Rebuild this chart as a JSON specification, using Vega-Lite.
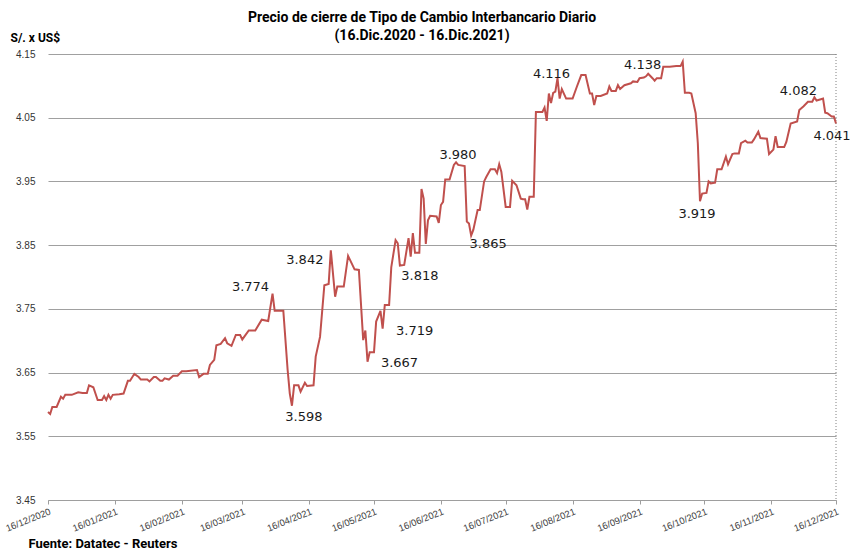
{
  "$schema": "https://vega.github.io/schema/vega-lite/v6.json",
  "width": 788,
  "height": 446,
  "autosize": {"type": "none"},
  "padding": {"left": 48, "top": 54, "right": 18, "bottom": 50},
  "background": "white",
  "config": {"view": {"stroke": null}},
  "title": {
    "text": ["Precio de cierre de Tipo de Cambio Interbancario  Diario", "(16.Dic.2020 - 16.Dic.2021)"],
    "font": "Roboto",
    "fontSize": 14,
    "fontWeight": "bold",
    "color": "#000000",
    "anchor": "middle",
    "dx": -20,
    "lineHeight": 18,
    "offset": -12
  },
  "datasets": {
    "serie": [
      {"fecha": "2020-12-16", "tc": 3.588}, {"fecha": "2020-12-17", "tc": 3.585}, {"fecha": "2020-12-18", "tc": 3.596},
      {"fecha": "2020-12-20", "tc": 3.596}, {"fecha": "2020-12-22", "tc": 3.612}, {"fecha": "2020-12-23", "tc": 3.609},
      {"fecha": "2020-12-24", "tc": 3.615}, {"fecha": "2020-12-27", "tc": 3.615}, {"fecha": "2020-12-30", "tc": 3.619},
      {"fecha": "2021-01-01", "tc": 3.618}, {"fecha": "2021-01-03", "tc": 3.618}, {"fecha": "2021-01-04", "tc": 3.630},
      {"fecha": "2021-01-06", "tc": 3.627}, {"fecha": "2021-01-08", "tc": 3.607}, {"fecha": "2021-01-10", "tc": 3.607},
      {"fecha": "2021-01-11", "tc": 3.613}, {"fecha": "2021-01-12", "tc": 3.607}, {"fecha": "2021-01-13", "tc": 3.615},
      {"fecha": "2021-01-14", "tc": 3.609}, {"fecha": "2021-01-15", "tc": 3.615}, {"fecha": "2021-01-18", "tc": 3.616},
      {"fecha": "2021-01-20", "tc": 3.617}, {"fecha": "2021-01-22", "tc": 3.637}, {"fecha": "2021-01-23", "tc": 3.637},
      {"fecha": "2021-01-25", "tc": 3.648}, {"fecha": "2021-01-27", "tc": 3.643}, {"fecha": "2021-01-28", "tc": 3.639},
      {"fecha": "2021-01-31", "tc": 3.639}, {"fecha": "2021-02-01", "tc": 3.636}, {"fecha": "2021-02-03", "tc": 3.643},
      {"fecha": "2021-02-04", "tc": 3.643}, {"fecha": "2021-02-06", "tc": 3.637}, {"fecha": "2021-02-07", "tc": 3.637},
      {"fecha": "2021-02-08", "tc": 3.641}, {"fecha": "2021-02-10", "tc": 3.639}, {"fecha": "2021-02-12", "tc": 3.645},
      {"fecha": "2021-02-14", "tc": 3.645}, {"fecha": "2021-02-16", "tc": 3.652}, {"fecha": "2021-02-18", "tc": 3.652},
      {"fecha": "2021-02-23", "tc": 3.654}, {"fecha": "2021-02-24", "tc": 3.643}, {"fecha": "2021-02-26", "tc": 3.648},
      {"fecha": "2021-02-28", "tc": 3.648}, {"fecha": "2021-03-01", "tc": 3.662}, {"fecha": "2021-03-03", "tc": 3.670},
      {"fecha": "2021-03-04", "tc": 3.693}, {"fecha": "2021-03-06", "tc": 3.695}, {"fecha": "2021-03-08", "tc": 3.704},
      {"fecha": "2021-03-09", "tc": 3.696}, {"fecha": "2021-03-11", "tc": 3.692}, {"fecha": "2021-03-13", "tc": 3.709},
      {"fecha": "2021-03-15", "tc": 3.709}, {"fecha": "2021-03-16", "tc": 3.702}, {"fecha": "2021-03-19", "tc": 3.716},
      {"fecha": "2021-03-22", "tc": 3.716}, {"fecha": "2021-03-25", "tc": 3.733}, {"fecha": "2021-03-28", "tc": 3.731},
      {"fecha": "2021-03-30", "tc": 3.774}, {"fecha": "2021-03-31", "tc": 3.747}, {"fecha": "2021-04-04", "tc": 3.747},
      {"fecha": "2021-04-06", "tc": 3.654}, {"fecha": "2021-04-07", "tc": 3.617}, {"fecha": "2021-04-08", "tc": 3.598},
      {"fecha": "2021-04-09", "tc": 3.630}, {"fecha": "2021-04-11", "tc": 3.630}, {"fecha": "2021-04-12", "tc": 3.620},
      {"fecha": "2021-04-14", "tc": 3.634}, {"fecha": "2021-04-15", "tc": 3.629}, {"fecha": "2021-04-18", "tc": 3.630},
      {"fecha": "2021-04-19", "tc": 3.675}, {"fecha": "2021-04-21", "tc": 3.706}, {"fecha": "2021-04-23", "tc": 3.787},
      {"fecha": "2021-04-25", "tc": 3.789}, {"fecha": "2021-04-26", "tc": 3.842}, {"fecha": "2021-04-28", "tc": 3.769},
      {"fecha": "2021-04-29", "tc": 3.785}, {"fecha": "2021-05-02", "tc": 3.785}, {"fecha": "2021-05-04", "tc": 3.833},
      {"fecha": "2021-05-05", "tc": 3.826}, {"fecha": "2021-05-07", "tc": 3.812}, {"fecha": "2021-05-09", "tc": 3.811},
      {"fecha": "2021-05-11", "tc": 3.701}, {"fecha": "2021-05-12", "tc": 3.716}, {"fecha": "2021-05-13", "tc": 3.667},
      {"fecha": "2021-05-14", "tc": 3.682}, {"fecha": "2021-05-16", "tc": 3.682}, {"fecha": "2021-05-17", "tc": 3.730},
      {"fecha": "2021-05-19", "tc": 3.747}, {"fecha": "2021-05-20", "tc": 3.719}, {"fecha": "2021-05-21", "tc": 3.756},
      {"fecha": "2021-05-23", "tc": 3.756}, {"fecha": "2021-05-24", "tc": 3.815}, {"fecha": "2021-05-26", "tc": 3.858},
      {"fecha": "2021-05-27", "tc": 3.853}, {"fecha": "2021-05-28", "tc": 3.818}, {"fecha": "2021-05-30", "tc": 3.819},
      {"fecha": "2021-06-01", "tc": 3.861}, {"fecha": "2021-06-02", "tc": 3.832}, {"fecha": "2021-06-03", "tc": 3.869},
      {"fecha": "2021-06-04", "tc": 3.838}, {"fecha": "2021-06-06", "tc": 3.838}, {"fecha": "2021-06-07", "tc": 3.938},
      {"fecha": "2021-06-08", "tc": 3.923}, {"fecha": "2021-06-09", "tc": 3.852}, {"fecha": "2021-06-10", "tc": 3.889},
      {"fecha": "2021-06-11", "tc": 3.896}, {"fecha": "2021-06-14", "tc": 3.895}, {"fecha": "2021-06-15", "tc": 3.885},
      {"fecha": "2021-06-16", "tc": 3.913}, {"fecha": "2021-06-17", "tc": 3.918}, {"fecha": "2021-06-18", "tc": 3.953},
      {"fecha": "2021-06-20", "tc": 3.953}, {"fecha": "2021-06-22", "tc": 3.976}, {"fecha": "2021-06-23", "tc": 3.980},
      {"fecha": "2021-06-24", "tc": 3.976}, {"fecha": "2021-06-27", "tc": 3.974}, {"fecha": "2021-06-28", "tc": 3.887},
      {"fecha": "2021-06-29", "tc": 3.884}, {"fecha": "2021-06-30", "tc": 3.865}, {"fecha": "2021-07-01", "tc": 3.874},
      {"fecha": "2021-07-03", "tc": 3.905}, {"fecha": "2021-07-04", "tc": 3.905}, {"fecha": "2021-07-06", "tc": 3.950},
      {"fecha": "2021-07-07", "tc": 3.957}, {"fecha": "2021-07-09", "tc": 3.969}, {"fecha": "2021-07-11", "tc": 3.969},
      {"fecha": "2021-07-12", "tc": 3.963}, {"fecha": "2021-07-13", "tc": 3.977}, {"fecha": "2021-07-14", "tc": 3.965},
      {"fecha": "2021-07-16", "tc": 3.910}, {"fecha": "2021-07-18", "tc": 3.910}, {"fecha": "2021-07-19", "tc": 3.951},
      {"fecha": "2021-07-21", "tc": 3.944}, {"fecha": "2021-07-23", "tc": 3.923}, {"fecha": "2021-07-24", "tc": 3.922},
      {"fecha": "2021-07-25", "tc": 3.922}, {"fecha": "2021-07-26", "tc": 3.906}, {"fecha": "2021-07-27", "tc": 3.926},
      {"fecha": "2021-07-29", "tc": 3.926}, {"fecha": "2021-07-30", "tc": 4.059}, {"fecha": "2021-08-02", "tc": 4.059},
      {"fecha": "2021-08-03", "tc": 4.066}, {"fecha": "2021-08-04", "tc": 4.045}, {"fecha": "2021-08-05", "tc": 4.088},
      {"fecha": "2021-08-06", "tc": 4.073}, {"fecha": "2021-08-07", "tc": 4.089}, {"fecha": "2021-08-08", "tc": 4.091},
      {"fecha": "2021-08-09", "tc": 4.112}, {"fecha": "2021-08-10", "tc": 4.080}, {"fecha": "2021-08-11", "tc": 4.095},
      {"fecha": "2021-08-13", "tc": 4.080}, {"fecha": "2021-08-16", "tc": 4.080}, {"fecha": "2021-08-18", "tc": 4.099},
      {"fecha": "2021-08-20", "tc": 4.117}, {"fecha": "2021-08-22", "tc": 4.117}, {"fecha": "2021-08-24", "tc": 4.088},
      {"fecha": "2021-08-25", "tc": 4.088}, {"fecha": "2021-08-26", "tc": 4.070}, {"fecha": "2021-08-27", "tc": 4.084},
      {"fecha": "2021-08-29", "tc": 4.084}, {"fecha": "2021-09-01", "tc": 4.088}, {"fecha": "2021-09-02", "tc": 4.099},
      {"fecha": "2021-09-03", "tc": 4.092}, {"fecha": "2021-09-05", "tc": 4.092}, {"fecha": "2021-09-06", "tc": 4.101},
      {"fecha": "2021-09-07", "tc": 4.095}, {"fecha": "2021-09-09", "tc": 4.101}, {"fecha": "2021-09-12", "tc": 4.104},
      {"fecha": "2021-09-13", "tc": 4.107}, {"fecha": "2021-09-15", "tc": 4.106}, {"fecha": "2021-09-16", "tc": 4.112},
      {"fecha": "2021-09-18", "tc": 4.113}, {"fecha": "2021-09-19", "tc": 4.115}, {"fecha": "2021-09-20", "tc": 4.119},
      {"fecha": "2021-09-22", "tc": 4.112}, {"fecha": "2021-09-23", "tc": 4.108}, {"fecha": "2021-09-24", "tc": 4.112},
      {"fecha": "2021-09-26", "tc": 4.112}, {"fecha": "2021-09-27", "tc": 4.130}, {"fecha": "2021-09-30", "tc": 4.130},
      {"fecha": "2021-10-03", "tc": 4.131}, {"fecha": "2021-10-05", "tc": 4.131}, {"fecha": "2021-10-06", "tc": 4.138},
      {"fecha": "2021-10-07", "tc": 4.089}, {"fecha": "2021-10-09", "tc": 4.089}, {"fecha": "2021-10-10", "tc": 4.088},
      {"fecha": "2021-10-12", "tc": 4.057}, {"fecha": "2021-10-13", "tc": 4.010}, {"fecha": "2021-10-14", "tc": 3.919},
      {"fecha": "2021-10-15", "tc": 3.931}, {"fecha": "2021-10-17", "tc": 3.932}, {"fecha": "2021-10-18", "tc": 3.950},
      {"fecha": "2021-10-19", "tc": 3.947}, {"fecha": "2021-10-21", "tc": 3.948}, {"fecha": "2021-10-22", "tc": 3.969},
      {"fecha": "2021-10-24", "tc": 3.969}, {"fecha": "2021-10-26", "tc": 3.989}, {"fecha": "2021-10-27", "tc": 3.977},
      {"fecha": "2021-10-29", "tc": 3.993}, {"fecha": "2021-10-30", "tc": 3.994}, {"fecha": "2021-11-01", "tc": 3.994},
      {"fecha": "2021-11-02", "tc": 4.010}, {"fecha": "2021-11-04", "tc": 4.014}, {"fecha": "2021-11-05", "tc": 4.011},
      {"fecha": "2021-11-07", "tc": 4.011}, {"fecha": "2021-11-08", "tc": 4.016}, {"fecha": "2021-11-10", "tc": 4.028},
      {"fecha": "2021-11-11", "tc": 4.018}, {"fecha": "2021-11-14", "tc": 4.017}, {"fecha": "2021-11-15", "tc": 3.993},
      {"fecha": "2021-11-17", "tc": 4.000}, {"fecha": "2021-11-18", "tc": 4.021}, {"fecha": "2021-11-19", "tc": 4.004},
      {"fecha": "2021-11-22", "tc": 4.004}, {"fecha": "2021-11-23", "tc": 4.012}, {"fecha": "2021-11-25", "tc": 4.041},
      {"fecha": "2021-11-28", "tc": 4.044}, {"fecha": "2021-11-29", "tc": 4.062}, {"fecha": "2021-12-01", "tc": 4.068},
      {"fecha": "2021-12-03", "tc": 4.075}, {"fecha": "2021-12-05", "tc": 4.075}, {"fecha": "2021-12-06", "tc": 4.082},
      {"fecha": "2021-12-07", "tc": 4.077}, {"fecha": "2021-12-09", "tc": 4.079}, {"fecha": "2021-12-10", "tc": 4.080},
      {"fecha": "2021-12-11", "tc": 4.058}, {"fecha": "2021-12-12", "tc": 4.057}, {"fecha": "2021-12-14", "tc": 4.052},
      {"fecha": "2021-12-15", "tc": 4.052}, {"fecha": "2021-12-16", "tc": 4.041}
    ],
    "etiquetas": [
      {"fecha": "2021-03-30", "tc": 3.774, "etiqueta": "3.774"},
      {"fecha": "2021-04-08", "tc": 3.598, "etiqueta": "3.598"},
      {"fecha": "2021-04-26", "tc": 3.842, "etiqueta": "3.842"},
      {"fecha": "2021-05-13", "tc": 3.667, "etiqueta": "3.667"},
      {"fecha": "2021-05-20", "tc": 3.719, "etiqueta": "3.719"},
      {"fecha": "2021-05-28", "tc": 3.818, "etiqueta": "3.818"},
      {"fecha": "2021-06-23", "tc": 3.980, "etiqueta": "3.980"},
      {"fecha": "2021-06-30", "tc": 3.865, "etiqueta": "3.865"},
      {"fecha": "2021-08-09", "tc": 4.116, "etiqueta": "4.116"},
      {"fecha": "2021-10-06", "tc": 4.138, "etiqueta": "4.138"},
      {"fecha": "2021-10-14", "tc": 3.919, "etiqueta": "3.919"},
      {"fecha": "2021-12-06", "tc": 4.082, "etiqueta": "4.082"},
      {"fecha": "2021-12-16", "tc": 4.041, "etiqueta": "4.041"}
    ],
    "borde": [{"fecha": "2021-12-16"}]
  },
  "encoding": {
    "x": {
      "field": "fecha",
      "type": "temporal",
      "scale": {
        "type": "utc",
        "domain": [{"year": 2020, "month": 12, "date": 16, "utc": true}, {"year": 2021, "month": 12, "date": 16, "utc": true}],
        "nice": false
      },
      "axis": {
        "values": [
          {"year": 2020, "month": 12, "date": 16, "utc": true},
          {"year": 2021, "month": 1, "date": 16, "utc": true},
          {"year": 2021, "month": 2, "date": 16, "utc": true},
          {"year": 2021, "month": 3, "date": 16, "utc": true},
          {"year": 2021, "month": 4, "date": 16, "utc": true},
          {"year": 2021, "month": 5, "date": 16, "utc": true},
          {"year": 2021, "month": 6, "date": 16, "utc": true},
          {"year": 2021, "month": 7, "date": 16, "utc": true},
          {"year": 2021, "month": 8, "date": 16, "utc": true},
          {"year": 2021, "month": 9, "date": 16, "utc": true},
          {"year": 2021, "month": 10, "date": 16, "utc": true},
          {"year": 2021, "month": 11, "date": 16, "utc": true},
          {"year": 2021, "month": 12, "date": 16, "utc": true}
        ],
        "labelExpr": "utcFormat(datum.value, '%d/%m/%Y')",
        "labelAngle": -22,
        "labelAlign": "right",
        "labelBaseline": "top",
        "labelFont": "Liberation Sans",
        "labelFontSize": 9.5,
        "labelColor": "#404040",
        "labelPadding": 2,
        "labelOverlap": false,
        "labelBound": false,
        "labelFlush": false,
        "grid": false,
        "domain": true,
        "domainColor": "#9e9e9e",
        "domainWidth": 1,
        "ticks": true,
        "tickSize": 4,
        "tickColor": "#9e9e9e",
        "title": "Fuente: Datatec - Reuters",
        "titleFont": "Roboto",
        "titleFontSize": 13,
        "titleFontWeight": "bold",
        "titleColor": "#000000",
        "titleAngle": 0,
        "titleAlign": "left",
        "titleBaseline": "middle",
        "titleX": -20,
        "titleY": 43
      }
    },
    "y": {
      "field": "tc",
      "type": "quantitative",
      "scale": {"domain": [3.45, 4.15], "nice": false, "zero": false},
      "axis": {
        "values": [3.45, 3.55, 3.65, 3.75, 3.85, 3.95, 4.05, 4.15],
        "format": ".2f",
        "labelFont": "Liberation Sans",
        "labelFontSize": 10,
        "labelColor": "#333333",
        "labelPadding": 13,
        "ticks": false,
        "domain": false,
        "grid": true,
        "gridColor": "#a0a0a0",
        "gridWidth": 1.2,
        "title": "S/. x US$",
        "titleFont": "Roboto",
        "titleFontSize": 12,
        "titleFontWeight": "bold",
        "titleColor": "#000000",
        "titleAngle": 0,
        "titleAlign": "left",
        "titleBaseline": "middle",
        "titleX": -38,
        "titleY": -17
      }
    }
  },
  "layer": [
    {
      "data": {"name": "borde"},
      "mark": {"type": "rule", "color": "#808080", "strokeDash": [1, 2], "strokeWidth": 1},
      "encoding": {"x": {"field": "fecha", "type": "temporal"}, "y": null}
    },
    {
      "data": {"name": "serie"},
      "mark": {"type": "line", "color": "#c0504d", "strokeWidth": 2, "interpolate": "linear"}
    },
    {"data": {"name": "etiquetas"}, "transform": [{"filter": "datum.etiqueta == '3.774'"}], "mark": {"type": "text", "font": "DejaVu Sans", "fontSize": 13, "color": "#1a1a1a", "dx": -22, "dy": -7}, "encoding": {"text": {"field": "etiqueta"}}},
    {"data": {"name": "etiquetas"}, "transform": [{"filter": "datum.etiqueta == '3.598'"}], "mark": {"type": "text", "font": "DejaVu Sans", "fontSize": 13, "color": "#1a1a1a", "dx": 12, "dy": 11}, "encoding": {"text": {"field": "etiqueta"}}},
    {"data": {"name": "etiquetas"}, "transform": [{"filter": "datum.etiqueta == '3.842'"}], "mark": {"type": "text", "font": "DejaVu Sans", "fontSize": 13, "color": "#1a1a1a", "dx": -26, "dy": 10}, "encoding": {"text": {"field": "etiqueta"}}},
    {"data": {"name": "etiquetas"}, "transform": [{"filter": "datum.etiqueta == '3.667'"}], "mark": {"type": "text", "font": "DejaVu Sans", "fontSize": 13, "color": "#1a1a1a", "dx": 32, "dy": 1}, "encoding": {"text": {"field": "etiqueta"}}},
    {"data": {"name": "etiquetas"}, "transform": [{"filter": "datum.etiqueta == '3.719'"}], "mark": {"type": "text", "font": "DejaVu Sans", "fontSize": 13, "color": "#1a1a1a", "dx": 32, "dy": 2}, "encoding": {"text": {"field": "etiqueta"}}},
    {"data": {"name": "etiquetas"}, "transform": [{"filter": "datum.etiqueta == '3.818'"}], "mark": {"type": "text", "font": "DejaVu Sans", "fontSize": 13, "color": "#1a1a1a", "dx": 20, "dy": 10}, "encoding": {"text": {"field": "etiqueta"}}},
    {"data": {"name": "etiquetas"}, "transform": [{"filter": "datum.etiqueta == '3.980'"}], "mark": {"type": "text", "font": "DejaVu Sans", "fontSize": 13, "color": "#1a1a1a", "dx": 2, "dy": -7}, "encoding": {"text": {"field": "etiqueta"}}},
    {"data": {"name": "etiquetas"}, "transform": [{"filter": "datum.etiqueta == '3.865'"}], "mark": {"type": "text", "font": "DejaVu Sans", "fontSize": 13, "color": "#1a1a1a", "dx": 17, "dy": 8}, "encoding": {"text": {"field": "etiqueta"}}},
    {"data": {"name": "etiquetas"}, "transform": [{"filter": "datum.etiqueta == '4.116'"}], "mark": {"type": "text", "font": "DejaVu Sans", "fontSize": 13, "color": "#1a1a1a", "dx": -6, "dy": -2}, "encoding": {"text": {"field": "etiqueta"}}},
    {"data": {"name": "etiquetas"}, "transform": [{"filter": "datum.etiqueta == '4.138'"}], "mark": {"type": "text", "font": "DejaVu Sans", "fontSize": 13, "color": "#1a1a1a", "dx": -40, "dy": 3}, "encoding": {"text": {"field": "etiqueta"}}},
    {"data": {"name": "etiquetas"}, "transform": [{"filter": "datum.etiqueta == '3.919'"}], "mark": {"type": "text", "font": "DejaVu Sans", "fontSize": 13, "color": "#1a1a1a", "dx": -3, "dy": 13}, "encoding": {"text": {"field": "etiqueta"}}},
    {"data": {"name": "etiquetas"}, "transform": [{"filter": "datum.etiqueta == '4.082'"}], "mark": {"type": "text", "font": "DejaVu Sans", "fontSize": 13, "color": "#1a1a1a", "dx": -16, "dy": -6}, "encoding": {"text": {"field": "etiqueta"}}},
    {"data": {"name": "etiquetas"}, "transform": [{"filter": "datum.etiqueta == '4.041'"}], "mark": {"type": "text", "font": "DejaVu Sans", "fontSize": 13, "color": "#1a1a1a", "dx": -4, "dy": 13}, "encoding": {"text": {"field": "etiqueta"}}}
  ]
}
